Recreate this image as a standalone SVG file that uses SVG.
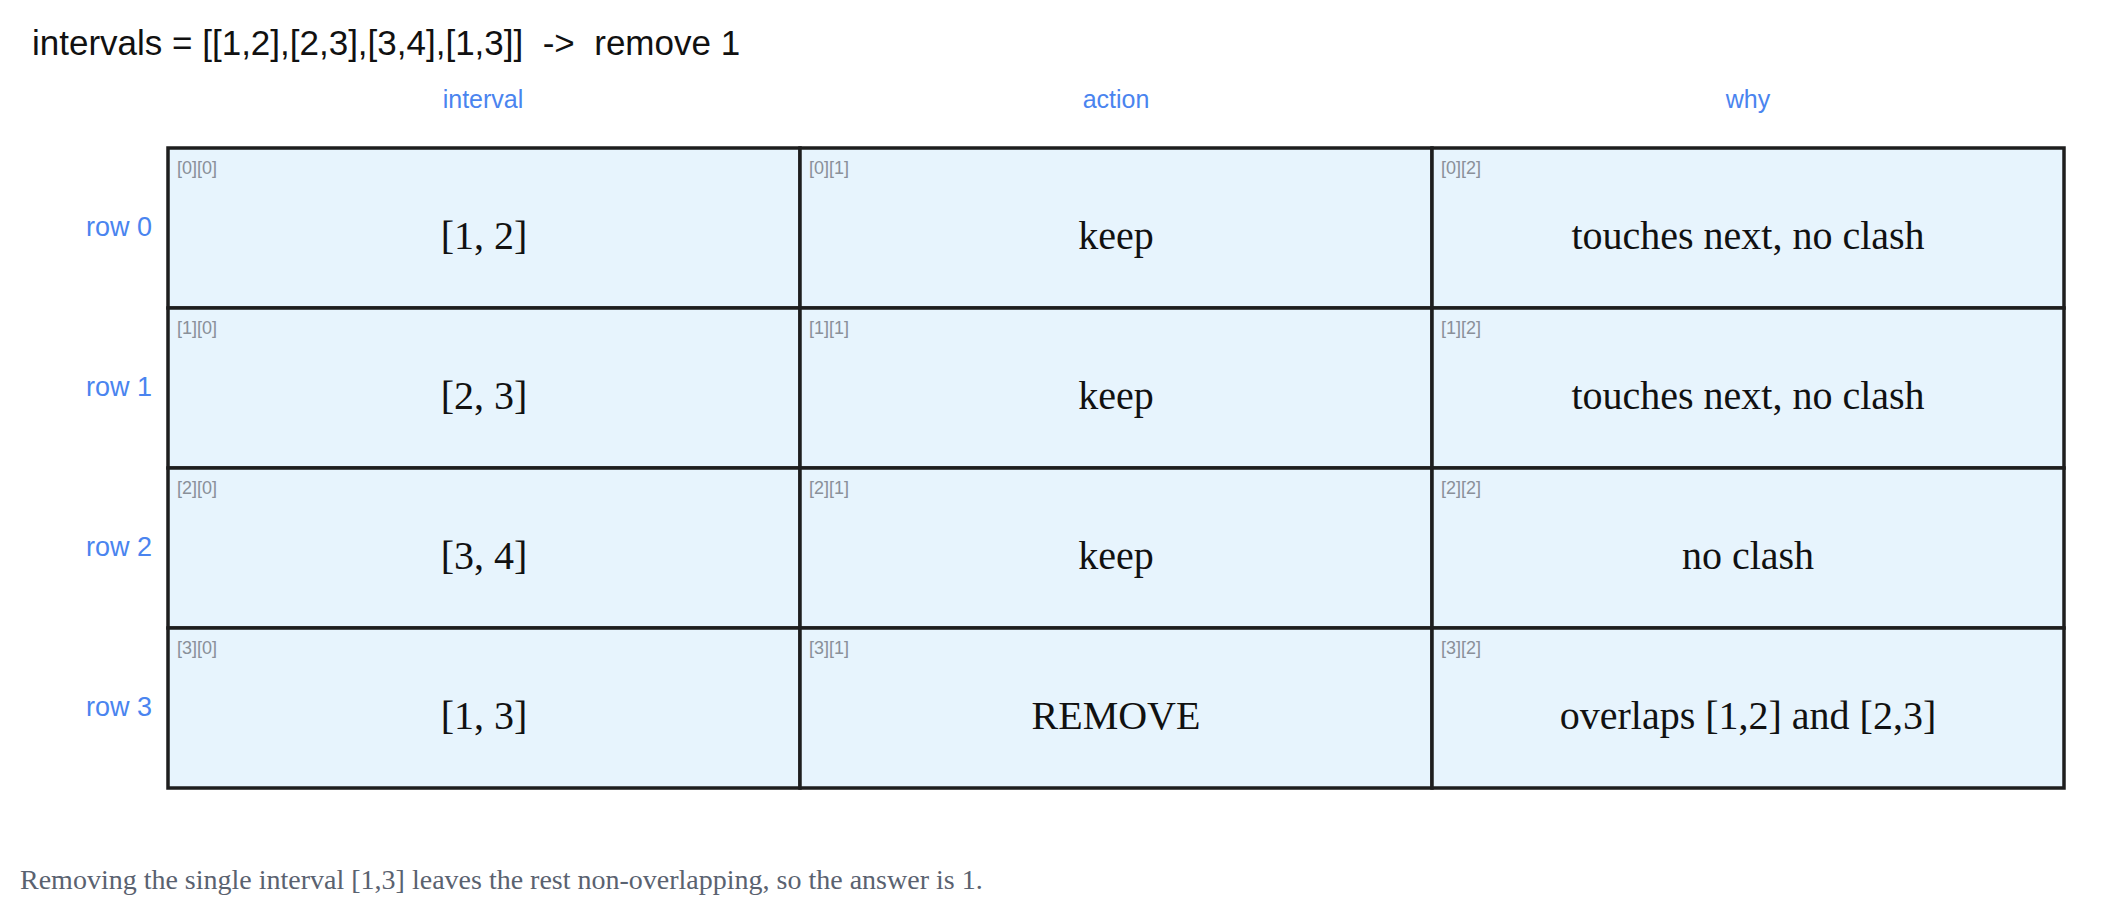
<svg xmlns="http://www.w3.org/2000/svg" width="2128" height="920" viewBox="0 0 2128 920">
<style>
.t{font-family:"Liberation Sans",Arial,sans-serif;font-size:35px;fill:#111;white-space:pre}
.h{font-family:"Liberation Sans",Arial,sans-serif;font-size:25px;fill:#4a84ef;text-anchor:middle}
.r{font-family:"Liberation Sans",Arial,sans-serif;font-size:27px;fill:#4a84ef;text-anchor:end}
.c{fill:#e7f4fd;stroke:#1e1e1e;stroke-width:3.5}
.v{font-family:"Liberation Serif","Times New Roman",serif;font-size:40px;fill:#111;text-anchor:middle}
.i{font-family:"Liberation Sans",Arial,sans-serif;font-size:18px;fill:#8a9099}
.f{font-family:"Liberation Serif","Times New Roman",serif;font-size:28px;fill:#5a6270}
</style>
<rect width="2128" height="920" fill="#fff"/>
<text class="t" x="32" y="55" xml:space="preserve">intervals = [[1,2],[2,3],[3,4],[1,3]]  -&gt;  remove 1</text>
<g id="headers">
<text class="h" x="483" y="108">interval</text>
<text class="h" x="1116" y="108">action</text>
<text class="h" x="1748" y="108">why</text>
<text class="r" x="152" y="236">row 0</text>
<text class="r" x="152" y="396">row 1</text>
<text class="r" x="152" y="556">row 2</text>
<text class="r" x="152" y="716">row 3</text>
</g>
<g id="r0c0"><rect class="c" x="168" y="148" width="632" height="160"/><text class="i" x="177" y="174">[0][0]</text><text class="v" x="484" y="249">[1, 2]</text></g>
<g id="r0c1"><rect class="c" x="800" y="148" width="632" height="160"/><text class="i" x="809" y="174">[0][1]</text><text class="v" x="1116" y="249">keep</text></g>
<g id="r0c2"><rect class="c" x="1432" y="148" width="632" height="160"/><text class="i" x="1441" y="174">[0][2]</text><text class="v" x="1748" y="249">touches next, no clash</text></g>
<g id="r1c0"><rect class="c" x="168" y="308" width="632" height="160"/><text class="i" x="177" y="334">[1][0]</text><text class="v" x="484" y="409">[2, 3]</text></g>
<g id="r1c1"><rect class="c" x="800" y="308" width="632" height="160"/><text class="i" x="809" y="334">[1][1]</text><text class="v" x="1116" y="409">keep</text></g>
<g id="r1c2"><rect class="c" x="1432" y="308" width="632" height="160"/><text class="i" x="1441" y="334">[1][2]</text><text class="v" x="1748" y="409">touches next, no clash</text></g>
<g id="r2c0"><rect class="c" x="168" y="468" width="632" height="160"/><text class="i" x="177" y="494">[2][0]</text><text class="v" x="484" y="569">[3, 4]</text></g>
<g id="r2c1"><rect class="c" x="800" y="468" width="632" height="160"/><text class="i" x="809" y="494">[2][1]</text><text class="v" x="1116" y="569">keep</text></g>
<g id="r2c2"><rect class="c" x="1432" y="468" width="632" height="160"/><text class="i" x="1441" y="494">[2][2]</text><text class="v" x="1748" y="569">no clash</text></g>
<g id="r3c0"><rect class="c" x="168" y="628" width="632" height="160"/><text class="i" x="177" y="654">[3][0]</text><text class="v" x="484" y="729">[1, 3]</text></g>
<g id="r3c1"><rect class="c" x="800" y="628" width="632" height="160"/><text class="i" x="809" y="654">[3][1]</text><text class="v" x="1116" y="729">REMOVE</text></g>
<g id="r3c2"><rect class="c" x="1432" y="628" width="632" height="160"/><text class="i" x="1441" y="654">[3][2]</text><text class="v" x="1748" y="729">overlaps [1,2] and [2,3]</text></g>
<g id="connectors"/>
<text class="f" x="20" y="889">Removing the single interval [1,3] leaves the rest non-overlapping, so the answer is 1.</text>
</svg>
